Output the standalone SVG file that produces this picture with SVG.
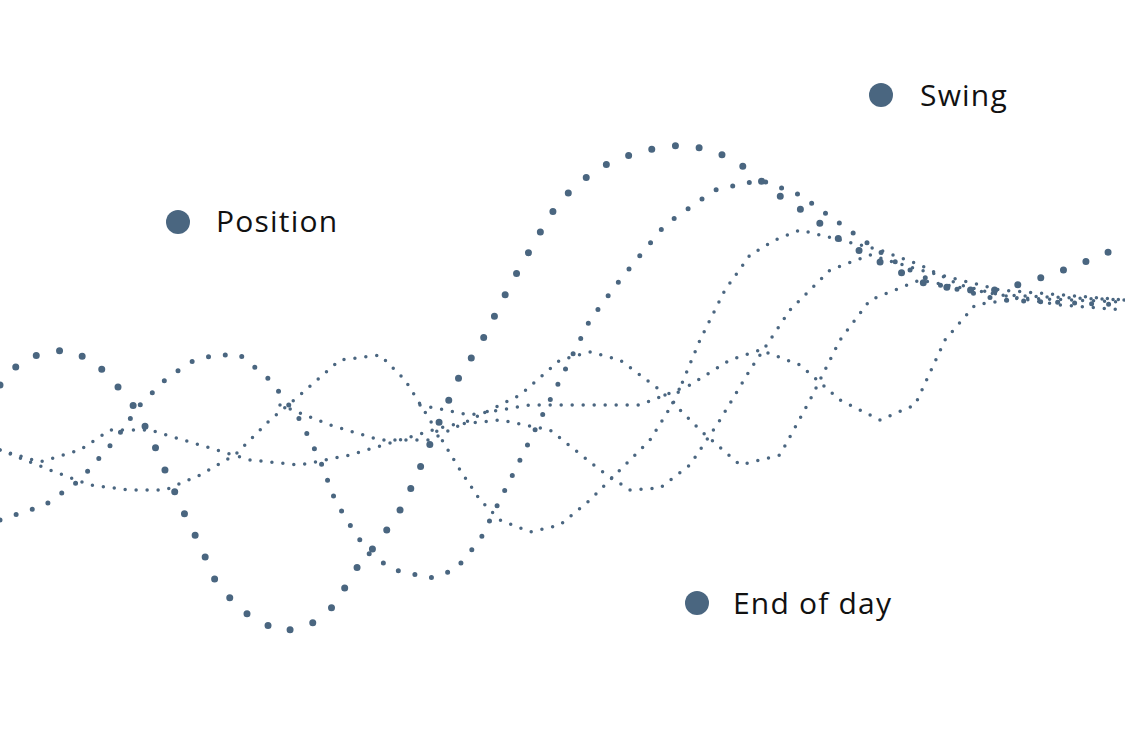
<svg xmlns="http://www.w3.org/2000/svg" width="1125" height="749" viewBox="0 0 1125 749">
<style>
.w{fill:none;stroke:#4a6680;stroke-linecap:round;stroke-linejoin:round}
.big{stroke-width:7;stroke-dasharray:0 24}
.mid{stroke-width:5;stroke-dasharray:0 17}
.sm{stroke-width:3.5;stroke-dasharray:0 11}
.dot{fill:#4a6680}
.lbl{font-family:"Open Sans","Liberation Sans",sans-serif;font-size:30px;font-weight:500;letter-spacing:1.2px;fill:#111}
</style>
<rect width="1125" height="749" fill="#fff"/>
<g id="connectors">
<polyline class="w big" points="0,385 20,362 45,352 68,350 95,362 130,400 150,435 165,470 185,515 200,545 215,580 240,610 280,632 310,625 335,605 355,570 380,540 400,510 415,480 440,420 460,375 480,345 495,315 510,285 530,250 550,215 575,185 605,165 630,155 660,147 685,145 710,150 735,160 760,180 785,200 810,215 840,240 880,262 920,282 960,290 1000,290 1050,275 1090,260 1125,245"/>
<polyline class="w mid" points="0,520 45,505 80,480 115,440 140,405 165,380 190,362 215,355 240,355 270,380 300,420 320,460 335,500 350,525 370,555 395,570 430,578 455,570 480,540 505,490 530,440 560,380 590,320 620,280 665,225 715,190 760,180 800,195 835,220 870,245 900,265 940,285 1000,300 1125,305"/>
<polyline class="w sm" points="0,450 50,470 90,485 130,490 165,490 200,475 235,455 270,420 300,395 340,360 380,355 405,380 430,420 460,470 480,500 500,520 530,532 560,525 590,500 620,470 650,440 675,400 700,340 725,290 750,255 775,240 800,230 840,240 880,250 920,265 960,285 1000,295 1060,305 1125,310"/>
<polyline class="w sm" points="0,450 40,462 80,450 110,430 150,430 200,445 250,460 300,465 350,455 400,440 450,425 500,420 550,430 600,470 630,490 660,488 690,465 720,420 750,370 790,310 830,270 870,255 920,270 1000,290 1125,300"/>
<polyline class="w sm" points="280,405 330,425 380,440 430,440 470,420 520,395 560,360 590,352 620,360 660,390 700,430 740,465 780,455 810,400 840,340 870,300 920,280 1000,295 1125,300"/>
<polyline class="w sm" points="420,405 470,415 530,405 580,405 640,405 690,385 730,360 760,350 800,365 840,400 880,420 915,405 945,340 975,305 1020,298 1125,302"/>
</g>
<g id="position"><circle class="dot" cx="178" cy="222" r="12"/><text class="lbl" x="216" y="232">Position</text></g>
<g id="swing"><circle class="dot" cx="881" cy="95" r="12"/><text class="lbl" x="920" y="106">Swing</text></g>
<g id="endofday"><circle class="dot" cx="697" cy="603" r="12"/><text class="lbl" x="733" y="614">End of day</text></g>
</svg>
